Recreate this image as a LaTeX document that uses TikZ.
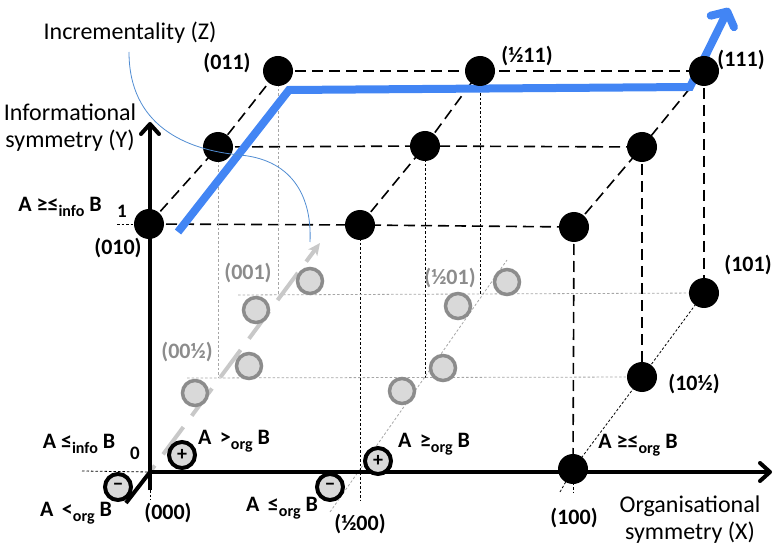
\documentclass[tikz,border=0pt]{standalone}
\usepackage{fontspec}
\setmainfont{Carlito}
\usetikzlibrary{arrows.meta}
\pgfdeclarelayer{back}\pgfdeclarelayer{mid}\pgfdeclarelayer{front}
\pgfsetlayers{back,mid,main,front}
\definecolor{bluel}{RGB}{66,133,244}
\definecolor{thinblue}{RGB}{80,140,210}
\definecolor{greyfill}{RGB}{217,217,217}
\definecolor{greyline}{RGB}{140,140,140}
\definecolor{greydash}{RGB}{200,200,200}
\newcommand\subx[1]{\raisebox{-0.45ex}{\fontsize{16}{16}\selectfont #1}}
\begin{document}
\begin{tikzpicture}[x=1pt,y=-1pt,
  blk/.style={circle,fill=black,minimum size=30pt,inner sep=0pt},
  gry/.style={circle,draw=greyline,fill=greyfill,line width=3.5pt,minimum size=25pt,inner sep=0pt},
  sgn/.style={circle,draw=black,fill=greyfill,line width=4pt,minimum size=26pt,inner sep=0pt,font=\bfseries\fontsize{20}{20}\selectfont},
  lbl/.style={font=\bfseries\fontsize{22}{22}\selectfont,inner sep=0pt},
  glbl/.style={lbl,text=greyline},
  ttl/.style={font=\fontsize{24}{27}\selectfont,align=center,inner sep=0pt},
  ldash/.style={line width=1.6pt,dash pattern=on 11pt off 6pt},
  fdash/.style={line width=0.8pt,dash pattern=on 2.5pt off 2pt},
  gdash/.style={line width=0.8pt,draw=gray!70,dash pattern=on 2.5pt off 2pt},
  axis/.style={line width=4pt,-{Straight Barb[length=10pt,width=18pt,round]}}
]
\useasboundingbox (0,0) rectangle (774,548);
% black points
\node[blk] (p010) at (149,224) {};
\node[blk] (ph10) at (360,225) {};
\node[blk] (p110) at (574,227) {};
\node[blk] (p01h) at (218,147) {};
\node[blk] (ph1h) at (425,146) {};
\node[blk] (p11h) at (642,147) {};
\node[blk] (p011) at (278,71) {};
\node[blk] (ph11) at (480,71) {};
\node[blk] (p111) at (704,71) {};
\node[blk] (p100) at (573,469) {};
\node[blk] (p10h) at (642,377) {};
\node[blk] (p101) at (704,293) {};
% grey points
\node[gry] (g1) at (195,393) {};
\node[gry] (g2) at (249,366) {};
\node[gry] (g3) at (256,310) {};
\node[gry] (g4) at (310,281) {};
\node[gry] (g5) at (402,391) {};
\node[gry] (g6) at (443,368) {};
\node[gry] (g7) at (458,306) {};
\node[gry] (g8) at (507,282) {};
% sign circles
\node[sgn] (sm1) at (118,487) {−};
\node[sgn] (sp1) at (182,455) {+};
\node[sgn] (sm2) at (330,487) {−};
\node[sgn] (sp2) at (378,461) {+};
% free ends
\coordinate (o) at (150,472);
\coordinate (ytop) at (150,122);
\coordinate (ybot) at (150,490);
\coordinate (xend) at (772,472);
\coordinate (xbeg) at (148,472);
\coordinate (zl1) at (187,378);
\coordinate (zl2) at (238,295);
\coordinate (gstart) at (330,512);
\coordinate (gend) at (507,260);
\coordinate (zarr) at (320,243);
\coordinate (dl) at (560,492);
\coordinate (b1) at (117,224);
\coordinate (b0) at (82,471);
\coordinate (ob) at (150,500);
\coordinate (pin) at (126,503);
\coordinate (bl1) at (178,232);
\coordinate (bl2) at (289,90);
\coordinate (bl3) at (690,87);
\coordinate (bl4) at (729,8);
\coordinate (cs) at (129,52);
\coordinate (ce) at (310,242);

\begin{pgfonlayer}{back}
  \draw[ldash] (p010.center) -- (ph10.center) -- (p110.center);
  \draw[ldash] (p01h.center) -- (ph1h.center) -- (p11h.center);
  \draw[ldash] (p011.center) -- (ph11.center) -- (p111.center);
  \draw[ldash] (p010.center) -- (p01h.center) -- (p011.center);
  \draw[ldash] (ph10.center) -- (ph1h.center) -- (ph11.center);
  \draw[ldash] (p110.center) -- (p11h.center) -- (p111.center);
  \draw[ldash] (p110.center) -- (p100.center);
  \draw[ldash] (p11h.center) -- (p10h.center);
  \draw[ldash] (p111.center) -- (p101.center);
  \draw[fdash] (dl) -- (p100.center) -- (p10h.center) -- (p101.center);
  \draw[fdash] (p100.center) -- (p100.center |- dl);
  \draw[fdash] (ph10.center) -- (ph10.center |- ob);
  \draw[fdash] (ph1h.center) -- (ph1h.center |- zl1);
  \draw[fdash] (ph11.center) -- (ph11.center |- zl2);
  \draw[gdash] (p01h.center) -- (p01h.center |- zl1);
  \draw[gdash] (p011.center) -- (p011.center |- zl2);
  \draw[gdash] (zl1) -- (p10h.center);
  \draw[gdash] (zl2) -- (p101.center);
  \draw[fdash] (b1) -- (p010.center);
  \draw[fdash] (b0) -- (o);
  \draw[fdash] (o) -- (ob);
  \draw[gdash] (gstart) -- (gend);
  \draw[greydash,line width=4pt,dash pattern=on 34pt off 14pt,dash phase=26pt,
        -{Stealth[length=12pt,width=11pt,inset=3pt]}] (o) -- (zarr);
\end{pgfonlayer}
\begin{pgfonlayer}{mid}
  \draw[axis] (ybot) -- (ytop);
  \draw[axis] (xbeg) -- (xend);
  \draw[line width=4pt] (o) -- (pin);
  \draw[bluel,line width=8pt,-{Straight Barb[length=11pt,width=26pt,round]}]
     (bl1) -- (bl2) -- (bl3) -- (bl4);
\end{pgfonlayer}
\begin{pgfonlayer}{front}
  \draw[thinblue,line width=0.8pt] (cs) .. controls (129,125) and (185,150) .. (240,155)
      .. controls (295,160) and (312,200) .. (ce);
\end{pgfonlayer}
% labels
\node[lbl] (l011) at (227,63) {(011)};
\node[lbl] (lh11) at (527,56) {(½11)};
\node[lbl] (l111) at (741,60) {(111)};
\node[lbl] (l010) at (118,248) {(010)};
\node[lbl] (l101) at (748,265) {(101)};
\node[lbl] (l10h) at (694,384) {(10½)};
\node[lbl] (l100) at (574,518) {(100)};
\node[lbl] (lh00) at (360,524) {(½00)};
\node[lbl] (l000) at (168,513) {(000)};
\node[glbl] (l001) at (248,273) {(001)};
\node[glbl] (l00h) at (187,352) {(00½)};
\node[glbl] (lh01) at (450,278) {(½01)};
\node[lbl] (ginfo) at (60,207) {A ≥≤\subx{info} B};
\node[lbl,font=\bfseries\fontsize{19}{19}\selectfont] (one) at (122,211) {1};
\node[lbl,font=\bfseries\fontsize{19}{19}\selectfont] (zero) at (135,453) {0};
\node[lbl] (linfo) at (79,444) {A ≤\subx{info} B};
\node[lbl] (gtorg) at (234,441) {A\, >\subx{org} B};
\node[lbl] (ltorg) at (76,513) {A\, <\subx{org} B};
\node[lbl] (leorg) at (282,508) {A\, ≤\subx{org} B};
\node[lbl] (georg) at (434,444) {A\, ≥\subx{org} B};
\node[lbl] (glorg) at (638,445) {A ≥≤\subx{org} B};
\node[ttl] (tz) at (130,33) {Incrementality (Z)};
\node[ttl] (ty) at (70,128) {Informational\\symmetry (Y)};
\node[ttl] (tx) at (690,520) {Organisational\\symmetry (X)};
\end{tikzpicture}
\end{document}
